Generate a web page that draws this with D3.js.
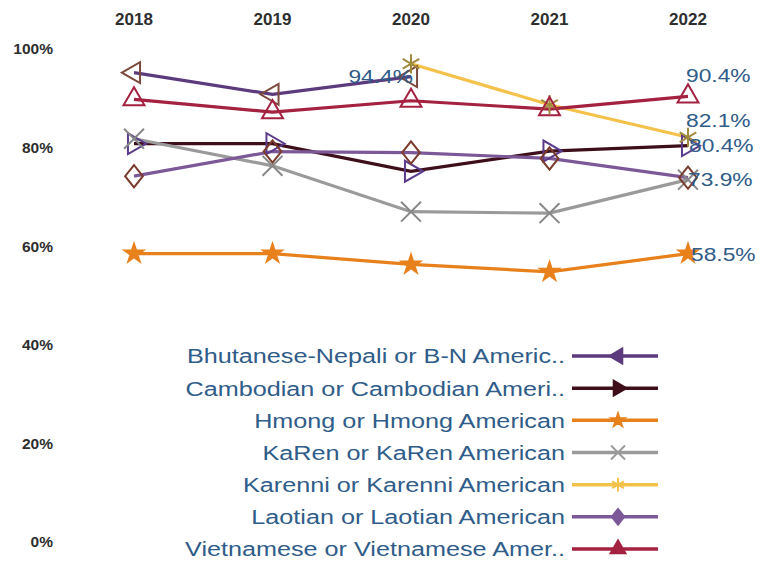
<!DOCTYPE html>
<html>
<head>
<meta charset="utf-8">
<script src="https://cdn.jsdelivr.net/npm/d3@7"></script>
<style>
  body { margin: 0; background: #fff; }
  .tick-label { font-family: "Liberation Sans", Arial, sans-serif; fill: #2e2e2e; font-weight: bold; }
  .val-label, .legend-label { font-family: "Liberation Sans", Arial, sans-serif; fill: #2f5c89; }
</style>
</head>
<body>
<div id="chart"></div>
<script>
// years along the top axis
const years = ['2018', '2019', '2020', '2021', '2022'];
const yTicks = [0, 20, 40, 60, 80, 100];

// series values (null = no data)
const bhutanese = [95.2, 90.8, 94.4, null, null];
const cambodian = [80.8, 80.8, 75.2, 79.3, 80.4];
const hmong = [58.5, 58.5, 56.3, 54.8, 58.5];
const karen = [81.8, 76.3, 67.0, 66.7, 73.5];
const karenni = [null, null, 97.0, 88.7, 82.1];
const laotian = [74.2, 79.2, 79.0, 77.8, 73.9];
const vietnamese = [89.8, 87.2, 89.5, 87.8, 90.4];

const seriesNames = [
  'Bhutanese-Nepali or B-N Americ..',
  'Cambodian or Cambodian Ameri..',
  'Hmong or Hmong American',
  'KaRen or KaRen American',
  'Karenni or Karenni American',
  'Laotian or Laotian American',
  'Vietnamese or Vietnamese Amer..'
];
const seriesValues = [bhutanese, cambodian, hmong, karen, karenni, laotian, vietnamese];
const lineColors = ['#5c3a7e', '#3e0f1a', '#e8801c', '#9a9a9a', '#f4c24a', '#7d5898', '#a52140'];
const markerColors = ['#7b4a3c', '#5b3b8c', '#e8801c', '#888888', '#a08a3c', '#7a3a2c', '#a52140'];

// which point labels are shown: [series index, year index]
const labelled = [[0, 2], [6, 4], [4, 4], [1, 4], [5, 4], [2, 4]];

const width = 768, height = 562;
const stretch = 1.2; // text in the picture is drawn a bit wide
const svg = d3.select('#chart').append('svg')
  .attr('width', width)
  .attr('height', height);

const x = d3.scalePoint().domain(years).range([134, 688]);
const y = d3.scaleLinear().domain([0, 100]).range([542, 49]);

// place a text at (px, py) and widen it horizontally
function placeText(sel, px, py, sx) {
  sel.attr('x', 0).attr('y', 0)
    .attr('transform', (d, i) => 'translate(' + px(d, i) + ',' + py(d, i) + ') scale(' + sx + ',1)');
}

// top axis labels
svg.append('g').selectAll('text')
  .data(years).enter().append('text')
  .attr('class', 'tick-label')
  .attr('text-anchor', 'middle')
  .attr('dy', '0.35em')
  .style('font-size', '17px')
  .text(d => d)
  .call(placeText, d => x(d), () => 19, 1);

// left axis labels
svg.append('g').selectAll('text')
  .data(yTicks).enter().append('text')
  .attr('class', 'tick-label')
  .attr('dy', '0.35em')
  .attr('text-anchor', 'end')
  .style('font-size', '15.5px')
  .text(d => d + '%')
  .call(placeText, () => 53, d => y(d), 1);

// wider diamond than d3's own
const wideDiamond = {
  draw(ctx, size) {
    const h = Math.sqrt(size) * 0.85, w = h * 0.8;
    ctx.moveTo(0, -h);
    ctx.lineTo(w, 0);
    ctx.lineTo(0, h);
    ctx.lineTo(-w, 0);
    ctx.closePath();
  }
};

const symbolTimes = d3.symbolTimes || d3.symbolX;
const symbols = [
  {type: d3.symbolTriangle, size: 190, rot: -90, fill: false},
  {type: d3.symbolTriangle, size: 190, rot: 90, fill: false},
  {type: d3.symbolStar, size: 105, rot: 0, fill: true},
  {type: symbolTimes, size: 260, rot: 0, fill: false},
  {type: d3.symbolAsterisk, size: 260, rot: 0, fill: false},
  {type: wideDiamond, size: 170, rot: 0, fill: false},
  {type: d3.symbolTriangle, size: 190, rot: 0, fill: false}
];

const line = d3.line()
  .defined(d => d.v != null)
  .x(d => x(d.year))
  .y(d => y(d.v));

const plot = svg.append('g');
seriesValues.forEach((vals, i) => {
  const pts = vals.map((v, j) => ({year: years[j], v}));
  plot.append('path')
    .datum(pts)
    .attr('fill', 'none')
    .attr('stroke', lineColors[i])
    .attr('stroke-width', 3.2)
    .attr('d', line);
});

seriesValues.forEach((vals, i) => {
  const s = symbols[i];
  plot.append('g').selectAll('path')
    .data(vals.map((v, j) => ({year: years[j], v})).filter(d => d.v != null))
    .enter().append('path')
    .attr('d', d3.symbol().type(s.type).size(s.size))
    .attr('transform', d => 'translate(' + x(d.year) + ',' + y(d.v) + ') rotate(' + s.rot + ')')
    .attr('fill', s.fill ? markerColors[i] : 'none')
    .attr('stroke', markerColors[i])
    .attr('stroke-width', 2);
});

// value labels
const labelPos = {
  '0,2': {dx: 2, dy: 0, anchor: 'end'},
  '6,4': {dx: -2, dy: -21, anchor: 'start'},
  '4,4': {dx: -2, dy: -17, anchor: 'start'},
  '1,4': {dx: 1, dy: 0, anchor: 'start'},
  '5,4': {dx: 0, dy: 2, anchor: 'start'},
  '2,4': {dx: 3, dy: 1, anchor: 'start'}
};
const lp = d => labelPos[d.join(',')];
svg.append('g').selectAll('text')
  .data(labelled).enter().append('text')
  .attr('class', 'val-label')
  .attr('dy', '0.35em')
  .attr('text-anchor', d => lp(d).anchor)
  .style('font-size', '19px')
  .text(d => seriesValues[d[0]][d[1]].toFixed(1) + '%')
  .call(placeText,
    d => x(years[d[1]]) + lp(d).dx,
    d => y(seriesValues[d[0]][d[1]]) + lp(d).dy,
    stretch);

// legend
const legend = svg.append('g');
const legendY = d3.scaleLinear().domain([0, seriesNames.length - 1]).range([356, 549]);
seriesNames.forEach((name, i) => {
  const g = legend.append('g').attr('transform', 'translate(0,' + legendY(i) + ')');
  g.append('text')
    .attr('class', 'legend-label')
    .attr('x', 0)
    .attr('dy', '0.35em')
    .attr('text-anchor', 'end')
    .attr('transform', 'translate(565,0) scale(' + stretch + ',1)')
    .style('font-size', '21px')
    .text(name);
  g.append('line')
    .attr('x1', 572).attr('x2', 658)
    .attr('stroke', lineColors[i])
    .attr('stroke-width', 3.5);
  const s = symbols[i];
  g.append('path')
    .attr('d', d3.symbol().type(s.type).size(s.size * 0.5))
    .attr('transform', 'translate(618,0) rotate(' + s.rot + ')')
    .attr('fill', (s.type === symbolTimes || s.type === d3.symbolAsterisk) ? 'none' : lineColors[i])
    .attr('stroke', lineColors[i])
    .attr('stroke-width', 2);
});
</script>
</body>
</html>
